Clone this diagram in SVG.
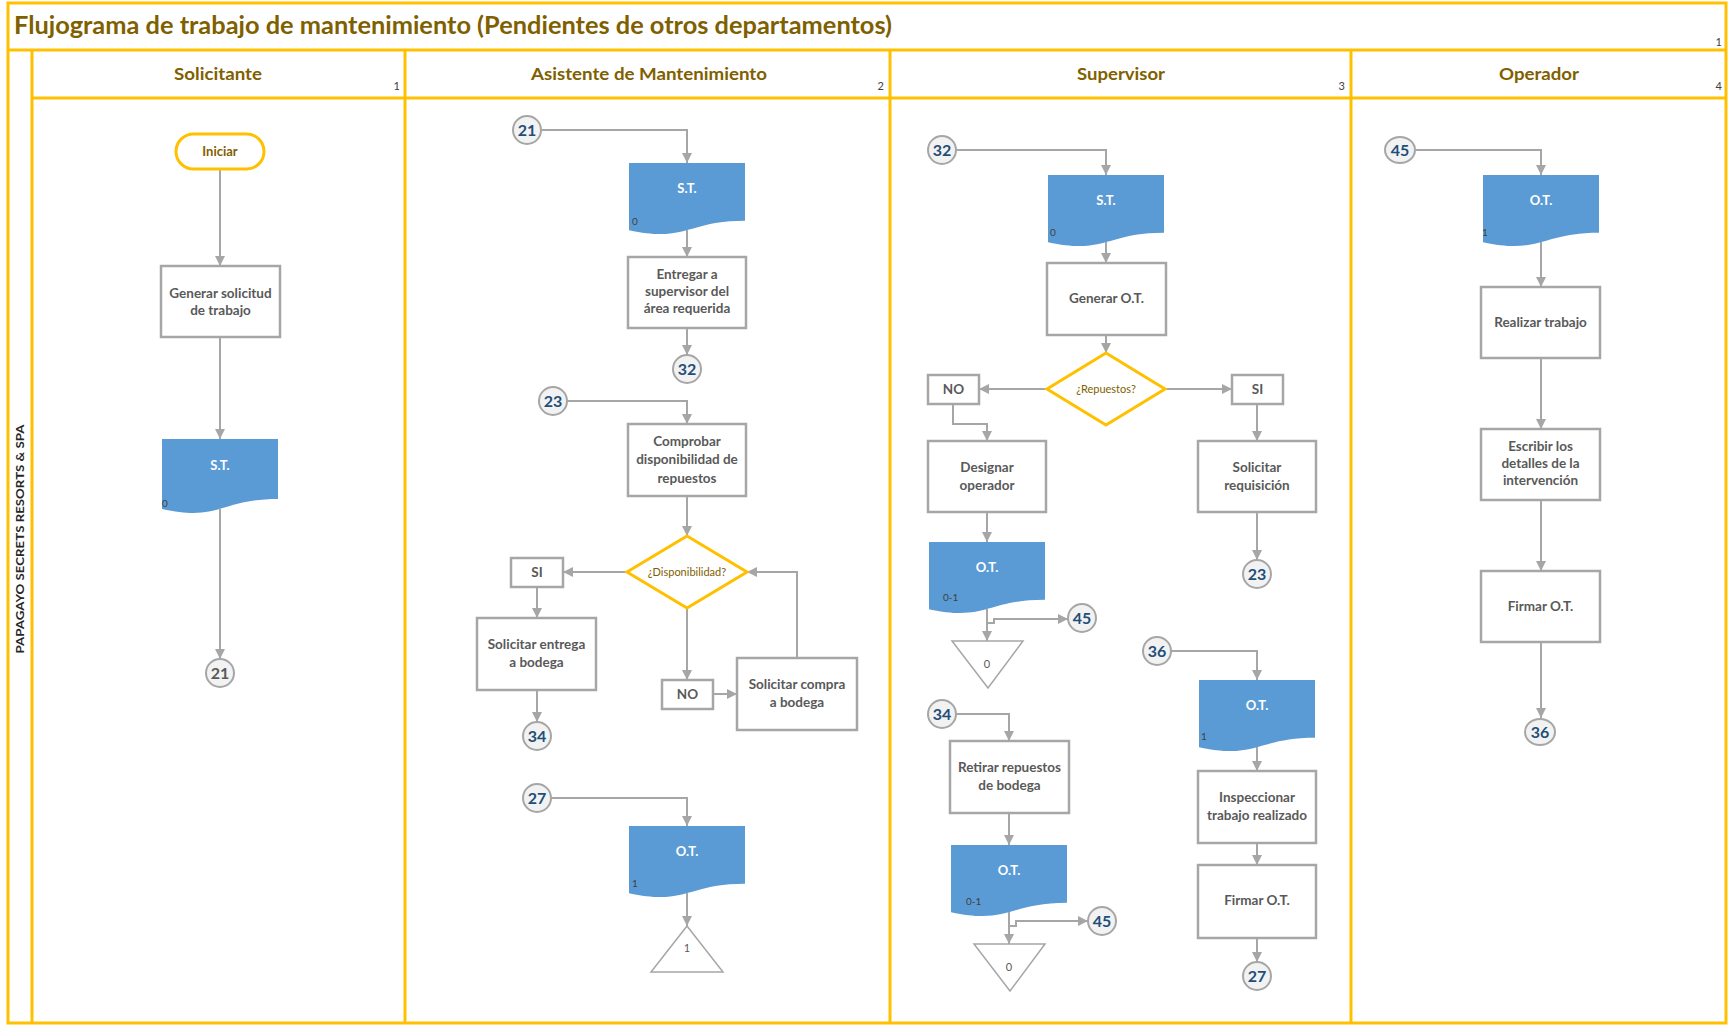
<svg xmlns="http://www.w3.org/2000/svg" width="1728" height="1026" viewBox="0 0 1728 1026">
  <defs>
    <marker id="arr" viewBox="0 0 10 10" refX="10" refY="5" markerWidth="10" markerHeight="10" markerUnits="userSpaceOnUse" orient="auto">
      <path d="M0,0 L10,5 L0,10 z" fill="#A6A6A6"/>
    </marker>
    <!-- document shape, 116 x 72 -->
    <path id="doc" d="M0,0 H116 V57.7 C58,57.7 58,79.7 0,67.2 Z"/>
    <style>
      .frame { fill: none; stroke: #FFC000; stroke-width: 3; }
      .title { font-family: Lato, "Open Sans", sans-serif; font-weight: bold; font-size: 25px; fill: #7F6000; }
      .lanehead { font-family: Lato, "Open Sans", sans-serif; font-weight: bold; font-size: 17px; fill: #7F6000; text-anchor: middle; }
      .idx { font-family: Lato, "Open Sans", sans-serif; font-size: 11px; fill: #404040; text-anchor: end; }
      .pool { font-family: Lato, "Open Sans", sans-serif; font-weight: bold; font-size: 12px; fill: #262626; text-anchor: middle; }
      .box { fill: #FFFFFF; stroke: #A6A6A6; stroke-width: 2.5; }
      .btxt { font-family: Lato, "Open Sans", sans-serif; font-weight: bold; font-size: 13.5px; fill: #595959; text-anchor: middle; }
      .term { fill: #FFFFFF; stroke: #FFC000; stroke-width: 3; }
      .ttxt { font-family: Lato, "Open Sans", sans-serif; font-weight: bold; font-size: 13px; fill: #7F6000; text-anchor: middle; }
      .dec { fill: #FFFFFF; stroke: #FFC000; stroke-width: 3; }
      .dtxt { font-family: Lato, "Open Sans", sans-serif; font-size: 11px; fill: #7F6000; text-anchor: middle; }
      .docf { fill: #5B9BD5; }
      .doctxt { font-family: Lato, "Open Sans", sans-serif; font-weight: bold; font-size: 13px; fill: #FFFFFF; text-anchor: middle; }
      .docnum { font-family: Lato, "Open Sans", sans-serif; font-size: 10px; fill: #404040; }
      .circ { fill: #F2F2F2; stroke: #A6A6A6; stroke-width: 2; }
      .ctxt { font-family: Lato, "Open Sans", sans-serif; font-weight: bold; font-size: 16px; fill: #1F4E79; text-anchor: middle; }
      .ctxtg { font-family: Lato, "Open Sans", sans-serif; font-weight: bold; font-size: 16px; fill: #595959; text-anchor: middle; }
      .tri { fill: #FFFFFF; stroke: #A6A6A6; stroke-width: 1.5; }
      .tritxt { font-family: Lato, "Open Sans", sans-serif; font-size: 11px; fill: #595959; text-anchor: middle; }
      .conn { fill: none; stroke: #A6A6A6; stroke-width: 2; marker-end: url(#arr); }
    </style>
  </defs>

  <rect width="1728" height="1026" fill="#FFFFFF"/>

  <!-- swimlane frame -->
  <g id="frame">
    <rect class="frame" x="8" y="3" width="1718" height="1020"/>
    <line class="frame" x1="8" y1="50" x2="1726" y2="50"/>
    <line class="frame" x1="32" y1="98" x2="1726" y2="98"/>
    <line class="frame" x1="32" y1="50" x2="32" y2="1023"/>
    <line class="frame" x1="405" y1="50" x2="405" y2="1023"/>
    <line class="frame" x1="890" y1="50" x2="890" y2="1023"/>
    <line class="frame" x1="1351" y1="50" x2="1351" y2="1023"/>
    <text class="title" x="14" y="34" textLength="878" lengthAdjust="spacingAndGlyphs">Flujograma de trabajo de mantenimiento (Pendientes de otros departamentos)</text>
    <text class="idx" x="1722" y="46">1</text>
    <text class="lanehead" x="218" y="80" textLength="88" lengthAdjust="spacingAndGlyphs">Solicitante</text>
    <text class="lanehead" x="649" y="80" textLength="236" lengthAdjust="spacingAndGlyphs">Asistente de Mantenimiento</text>
    <text class="lanehead" x="1121" y="80" textLength="88" lengthAdjust="spacingAndGlyphs">Supervisor</text>
    <text class="lanehead" x="1539" y="80" textLength="80" lengthAdjust="spacingAndGlyphs">Operador</text>
    <text class="idx" x="400" y="90">1</text>
    <text class="idx" x="884" y="90">2</text>
    <text class="idx" x="1345" y="90">3</text>
    <text class="idx" x="1722" y="90">4</text>
    <text class="pool" transform="translate(24,539) rotate(-90)" textLength="229" lengthAdjust="spacingAndGlyphs">PAPAGAYO SECRETS RESORTS &amp; SPA</text>
  </g>

  <!-- connectors -->
  <g id="connectors">
    <!-- Solicitante -->
    <path class="conn" d="M220,169 V266"/>
    <path class="conn" d="M220,337 V439"/>
    <path class="conn" d="M220,509 V659"/>
    <!-- Asistente de Mantenimiento -->
    <path class="conn" d="M542,130 H687 V163"/>
    <path class="conn" d="M687,230 V257"/>
    <path class="conn" d="M687,328 V355"/>
    <path class="conn" d="M567,401 H687 V424"/>
    <path class="conn" d="M687,496 V536"/>
    <path class="conn" d="M627,572 H563"/>
    <path class="conn" d="M537,587 V618"/>
    <path class="conn" d="M537,690 V722"/>
    <path class="conn" d="M687,608 V680"/>
    <path class="conn" d="M713,694 H737"/>
    <path class="conn" d="M797,658 V572 H747"/>
    <path class="conn" d="M551,798 H687 V826"/>
    <path class="conn" d="M687,893 V926"/>
    <!-- Supervisor -->
    <path class="conn" d="M956,150 H1106 V175"/>
    <path class="conn" d="M1106,242 V263"/>
    <path class="conn" d="M1106,335 V353"/>
    <path class="conn" d="M1047,389 H979"/>
    <path class="conn" d="M1165,389 H1232"/>
    <path class="conn" d="M953,404 V424 H987 V441"/>
    <path class="conn" d="M987,512 V542"/>
    <path class="conn" d="M987,609 V641"/>
    <path class="conn" d="M987,623 H994 V619 H1068"/>
    <path class="conn" d="M1257,404 V441"/>
    <path class="conn" d="M1257,512 V560"/>
    <path class="conn" d="M956,714 H1009 V741"/>
    <path class="conn" d="M1009,813 V845"/>
    <path class="conn" d="M1009,912 V944"/>
    <path class="conn" d="M1009,926 H1016 V921 H1088"/>
    <path class="conn" d="M1171,651 H1257 V680"/>
    <path class="conn" d="M1257,747 V771"/>
    <path class="conn" d="M1257,843 V865"/>
    <path class="conn" d="M1257,938 V962"/>
    <!-- Operador -->
    <path class="conn" d="M1416,150 H1541 V175"/>
    <path class="conn" d="M1541,242 V287"/>
    <path class="conn" d="M1541,358 V429"/>
    <path class="conn" d="M1541,500 V571"/>
    <path class="conn" d="M1541,642 V718"/>
  </g>

  <!-- Solicitante lane -->
  <g id="iniciar">
    <rect class="term" x="176" y="134" width="88" height="35" rx="17.5"/>
    <text class="ttxt" x="220" y="156">Iniciar</text>
  </g>
  <g id="generar-solicitud">
    <rect class="box" x="161" y="266" width="119" height="71"/>
    <text class="btxt" x="220.5" y="298">Generar solicitud</text>
    <text class="btxt" x="220.5" y="315">de trabajo</text>
  </g>
  <g id="doc-st-1">
    <use href="#doc" class="docf" transform="translate(162,439) scale(1,1.04)"/>
    <text class="doctxt" x="220" y="470">S.T.</text>
    <text class="docnum" x="162" y="507">0</text>
  </g>
  <g id="conn-21-out">
    <circle class="circ" cx="220" cy="673" r="14"/>
    <text class="ctxtg" x="220" y="679">21</text>
  </g>

  <!-- Asistente de Mantenimiento lane -->
  <g id="conn-21-in">
    <circle class="circ" cx="527" cy="130" r="14"/>
    <text class="ctxt" x="527" y="136">21</text>
  </g>
  <g id="doc-st-2">
    <use href="#doc" class="docf" transform="translate(629,163)"/>
    <text class="doctxt" x="687" y="193">S.T.</text>
    <text class="docnum" x="632" y="225">0</text>
  </g>
  <g id="entregar">
    <rect class="box" x="628" y="257" width="118" height="71"/>
    <text class="btxt" x="687" y="279">Entregar a</text>
    <text class="btxt" x="687" y="296">supervisor del</text>
    <text class="btxt" x="687" y="313">área requerida</text>
  </g>
  <g id="conn-32-out">
    <circle class="circ" cx="687" cy="369" r="14"/>
    <text class="ctxt" x="687" y="375">32</text>
  </g>
  <g id="conn-23-in">
    <circle class="circ" cx="553" cy="401" r="14"/>
    <text class="ctxt" x="553" y="407">23</text>
  </g>
  <g id="comprobar">
    <rect class="box" x="628" y="424" width="118" height="72"/>
    <text class="btxt" x="687" y="446">Comprobar</text>
    <text class="btxt" x="687" y="464">disponibilidad de</text>
    <text class="btxt" x="687" y="483">repuestos</text>
  </g>
  <g id="dec-disponibilidad">
    <path class="dec" d="M687,536 L747,572 L687,608 L627,572 Z"/>
    <text class="dtxt" x="687" y="576">¿Disponibilidad?</text>
  </g>
  <g id="si-1">
    <rect class="box" x="511" y="558" width="52" height="29"/>
    <text class="btxt" x="537" y="577">SI</text>
  </g>
  <g id="solicitar-entrega">
    <rect class="box" x="477" y="618" width="119" height="72"/>
    <text class="btxt" x="536.5" y="649">Solicitar entrega</text>
    <text class="btxt" x="536.5" y="667">a bodega</text>
  </g>
  <g id="conn-34-out">
    <circle class="circ" cx="537" cy="736" r="14"/>
    <text class="ctxt" x="537" y="742">34</text>
  </g>
  <g id="no-1">
    <rect class="box" x="662" y="680" width="51" height="29"/>
    <text class="btxt" x="687.5" y="699">NO</text>
  </g>
  <g id="solicitar-compra">
    <rect class="box" x="737" y="658" width="120" height="72"/>
    <text class="btxt" x="797" y="689">Solicitar compra</text>
    <text class="btxt" x="797" y="707">a bodega</text>
  </g>
  <g id="conn-27-in">
    <circle class="circ" cx="537" cy="798" r="14"/>
    <text class="ctxt" x="537" y="804">27</text>
  </g>
  <g id="doc-ot-2">
    <use href="#doc" class="docf" transform="translate(629,826)"/>
    <text class="doctxt" x="687" y="856">O.T.</text>
    <text class="docnum" x="632" y="887">1</text>
  </g>
  <g id="archivo-1">
    <path class="tri" d="M687,926 L723,972 L651,972 Z"/>
    <text class="tritxt" x="687" y="952">1</text>
  </g>

  <!-- Supervisor lane -->
  <g id="conn-32-in">
    <circle class="circ" cx="942" cy="150" r="14"/>
    <text class="ctxt" x="942" y="156">32</text>
  </g>
  <g id="doc-st-3">
    <use href="#doc" class="docf" transform="translate(1048,175)"/>
    <text class="doctxt" x="1106" y="205">S.T.</text>
    <text class="docnum" x="1050" y="236">0</text>
  </g>
  <g id="generar-ot">
    <rect class="box" x="1047" y="263" width="119" height="72"/>
    <text class="btxt" x="1106.5" y="303">Generar O.T.</text>
  </g>
  <g id="dec-repuestos">
    <path class="dec" d="M1106,353 L1165,389 L1106,425 L1047,389 Z"/>
    <text class="dtxt" x="1106" y="393">¿Repuestos?</text>
  </g>
  <g id="no-2">
    <rect class="box" x="928" y="375" width="51" height="29"/>
    <text class="btxt" x="953.5" y="394">NO</text>
  </g>
  <g id="si-2">
    <rect class="box" x="1232" y="375" width="51" height="29"/>
    <text class="btxt" x="1257.5" y="394">SI</text>
  </g>
  <g id="designar">
    <rect class="box" x="928" y="441" width="118" height="71"/>
    <text class="btxt" x="987" y="472">Designar</text>
    <text class="btxt" x="987" y="490">operador</text>
  </g>
  <g id="doc-ot-3a">
    <use href="#doc" class="docf" transform="translate(929,542)"/>
    <text class="doctxt" x="987" y="572">O.T.</text>
    <text class="docnum" x="943" y="601">0-1</text>
  </g>
  <g id="archivo-0a">
    <path class="tri" d="M952,641 L1023,641 L988,688 Z"/>
    <text class="tritxt" x="987" y="668">0</text>
  </g>
  <g id="conn-45-out-a">
    <circle class="circ" cx="1082" cy="618" r="14"/>
    <text class="ctxt" x="1082" y="624">45</text>
  </g>
  <g id="solicitar-requisicion">
    <rect class="box" x="1198" y="441" width="118" height="71"/>
    <text class="btxt" x="1257" y="472">Solicitar</text>
    <text class="btxt" x="1257" y="490">requisición</text>
  </g>
  <g id="conn-23-out">
    <circle class="circ" cx="1257" cy="574" r="14"/>
    <text class="ctxt" x="1257" y="580">23</text>
  </g>
  <g id="conn-34-in">
    <circle class="circ" cx="942" cy="714" r="14"/>
    <text class="ctxt" x="942" y="720">34</text>
  </g>
  <g id="retirar">
    <rect class="box" x="950" y="741" width="119" height="72"/>
    <text class="btxt" x="1009.5" y="772">Retirar repuestos</text>
    <text class="btxt" x="1009.5" y="790">de bodega</text>
  </g>
  <g id="doc-ot-3b">
    <use href="#doc" class="docf" transform="translate(951,845)"/>
    <text class="doctxt" x="1009" y="875">O.T.</text>
    <text class="docnum" x="966" y="905">0-1</text>
  </g>
  <g id="archivo-0b">
    <path class="tri" d="M974,944 L1045,944 L1010,991 Z"/>
    <text class="tritxt" x="1009" y="971">0</text>
  </g>
  <g id="conn-45-out-b">
    <circle class="circ" cx="1102" cy="921" r="14"/>
    <text class="ctxt" x="1102" y="927">45</text>
  </g>
  <g id="conn-36-in">
    <circle class="circ" cx="1157" cy="651" r="14"/>
    <text class="ctxt" x="1157" y="657">36</text>
  </g>
  <g id="doc-ot-3c">
    <use href="#doc" class="docf" transform="translate(1199,680)"/>
    <text class="doctxt" x="1257" y="710">O.T.</text>
    <text class="docnum" x="1201" y="740">1</text>
  </g>
  <g id="inspeccionar">
    <rect class="box" x="1198" y="771" width="118" height="72"/>
    <text class="btxt" x="1257" y="802">Inspeccionar</text>
    <text class="btxt" x="1257" y="820">trabajo realizado</text>
  </g>
  <g id="firmar-ot-sup">
    <rect class="box" x="1198" y="865" width="118" height="73"/>
    <text class="btxt" x="1257" y="905">Firmar O.T.</text>
  </g>
  <g id="conn-27-out">
    <circle class="circ" cx="1257" cy="976" r="14"/>
    <text class="ctxt" x="1257" y="982">27</text>
  </g>

  <!-- Operador lane -->
  <g id="conn-45-in">
    <ellipse class="circ" cx="1400" cy="150" rx="15" ry="13"/>
    <text class="ctxt" x="1400" y="156">45</text>
  </g>
  <g id="doc-ot-4">
    <use href="#doc" class="docf" transform="translate(1483,175)"/>
    <text class="doctxt" x="1541" y="205">O.T.</text>
    <text class="docnum" x="1482" y="236">1</text>
  </g>
  <g id="realizar">
    <rect class="box" x="1481" y="287" width="119" height="71"/>
    <text class="btxt" x="1540.5" y="327">Realizar trabajo</text>
  </g>
  <g id="escribir">
    <rect class="box" x="1481" y="429" width="119" height="71"/>
    <text class="btxt" x="1540.5" y="451">Escribir los</text>
    <text class="btxt" x="1540.5" y="468">detalles de la</text>
    <text class="btxt" x="1540.5" y="485">intervención</text>
  </g>
  <g id="firmar-ot-op">
    <rect class="box" x="1481" y="571" width="119" height="71"/>
    <text class="btxt" x="1540.5" y="611">Firmar O.T.</text>
  </g>
  <g id="conn-36-out">
    <ellipse class="circ" cx="1540" cy="732" rx="15" ry="13"/>
    <text class="ctxt" x="1540" y="738">36</text>
  </g>
</svg>
